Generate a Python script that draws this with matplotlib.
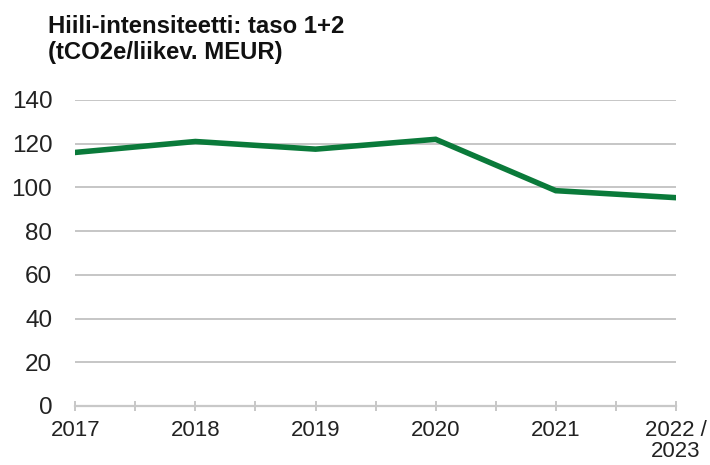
import matplotlib
matplotlib.use("Agg")
import matplotlib.pyplot as plt
from matplotlib.ticker import MultipleLocator

plt.rcParams['font.family'] = ['Liberation Sans', 'DejaVu Sans']

# data
years = ['2017', '2018', '2019', '2020', '2021', '2022 /\n2023']
intensity = [116, 121, 117.5, 122, 98.5, 95.3]
title_lines = ['Hiili-intensiteetti: taso 1+2', '(tCO2e/liikev. MEUR)']

fig = plt.figure(figsize=(7.1, 4.65), dpi=100)
ax = fig.add_axes([0.106, 0.127, 0.846, 0.658])

x = list(range(len(years)))
ax.plot(x, intensity, color='#0a7a3a', linewidth=4, solid_joinstyle='miter', zorder=3)

ax.set_ylim(0, 140)
ax.set_xlim(0, len(years) - 1)
ax.set_yticks(range(0, 141, 20))
ax.yaxis.grid(True, color='#bcbcbc', linewidth=1.2)
ax.set_axisbelow(True)

ax.set_xticks(x)
ax.set_xticklabels(years, fontsize=16, color='#222222', linespacing=1.0)
ax.xaxis.set_minor_locator(MultipleLocator(0.5))
ax.tick_params(axis='x', which='both', direction='inout', length=7, width=1.2,
               color='#bdbdbd', pad=6.5)
ax.tick_params(axis='y', length=0, labelsize=17.5, labelcolor='#222222', pad=16.5)

for s in ['top', 'right', 'left']:
    ax.spines[s].set_visible(False)
ax.spines['bottom'].set_color('#c8c8c8')
ax.spines['bottom'].set_linewidth(1.6)
ax.spines['bottom'].set_zorder(2)

# title, one text per line
fig.text(0.067, 1 - 32.7 / 465, title_lines[0], fontsize=17.2, fontweight='bold',
         va='baseline', ha='left', color='#111111')
fig.text(0.067, 1 - 59.5 / 465, title_lines[1], fontsize=17.2, fontweight='bold',
         va='baseline', ha='left', color='#111111')

fig.savefig('out.png', dpi=100)
